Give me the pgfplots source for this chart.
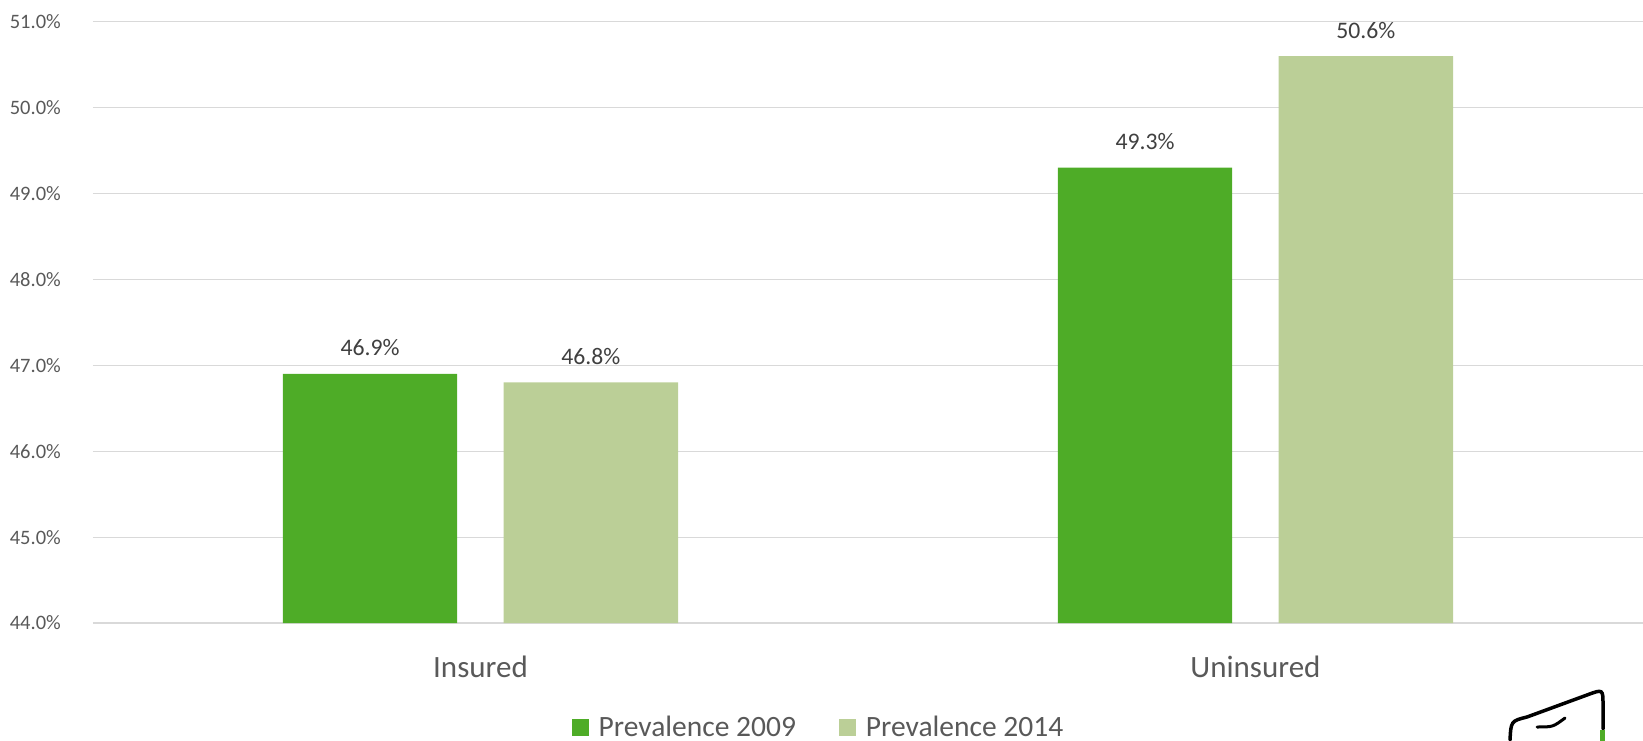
\documentclass[border=0pt]{standalone}
\usepackage{fontspec}
\setmainfont{Carlito}
\usepackage{pgfplots}
\pgfplotsset{compat=1.18}
\definecolor{dgreen}{HTML}{4EAC27}
\definecolor{lgreen}{HTML}{BBCF97}
\definecolor{gridc}{HTML}{D9D9D9}
\definecolor{tickc}{HTML}{595959}
\definecolor{labc}{HTML}{404040}
\begin{document}
\begin{tikzpicture}
\useasboundingbox (-93bp,-118bp) rectangle (1550bp,623bp);
\begin{axis}[
  at={(0,0)}, anchor=south west,
  scale only axis, width=1550bp, height=601.3bp,
  /pgf/number format/assume math mode=true,
  xmin=-0.5, xmax=1.5, ymin=44, ymax=51,
  xtick={0,1}, xticklabels={Insured,Uninsured},
  ytick={44,45,...,51},
  yticklabel={\pgfmathprintnumber[fixed,fixed zerofill,precision=1]{\tick}\%},
  axis line style={draw=none},
  major tick length=0pt,
  ymajorgrids, grid style={gridc, line width=1.2bp},
  yticklabel style={font=\fontsize{20.5bp}{24bp}\selectfont, text=tickc, anchor=east, inner sep=0pt, xshift=-32bp},
  xticklabel style={font=\fontsize{31bp}{36bp}\selectfont, text=tickc, anchor=base, inner sep=0pt, yshift=-54bp},
  ybar, bar width=0.225,
  nodes near coords={\pgfmathprintnumber[fixed,fixed zerofill,precision=1]{\pgfplotspointmeta}\%},
  every node near coord/.append style={font=\fontsize{23.7bp}{28bp}\selectfont, text=labc, anchor=base, inner sep=0pt, yshift=18bp},
  legend style={at={(0.468,-0.173)}, anchor=center, draw=none, fill=none,
    legend columns=2, font=\fontsize{29.5bp}{34bp}\selectfont, text=tickc,
    /tikz/every even column/.append style={column sep=41bp},
    /tikz/every odd column/.append style={column sep=8bp},
    inner sep=0pt},
  legend image code/.code={\fill[#1] (0bp,-8.5bp) rectangle (17bp,8.5bp);},
]
\addplot[fill=dgreen, draw=none, bar shift=-0.1425] coordinates {(0,46.9) (1,49.3)};
\addplot[fill=lgreen, draw=none, bar shift=0.1425] coordinates {(0,46.8) (1,50.6)};
\legend{Prevalence 2009, Prevalence 2014}
\end{axis}
\draw[black, line width=3.5bp, line cap=round] (1417bp,-117bp) .. controls (1418bp,-98bp) .. (1434bp,-94bp) -- (1494bp,-72bp) .. controls (1510bp,-66bp) .. (1510bp,-82bp) -- (1510bp,-106bp);
\fill[dgreen] (1507bp,-107bp) rectangle (1512bp,-118bp);
\draw[black, line width=3bp, line cap=round] (1444bp,-104bp) .. controls (1460bp,-104bp) .. (1472bp,-95bp);
\end{tikzpicture}
\end{document}
